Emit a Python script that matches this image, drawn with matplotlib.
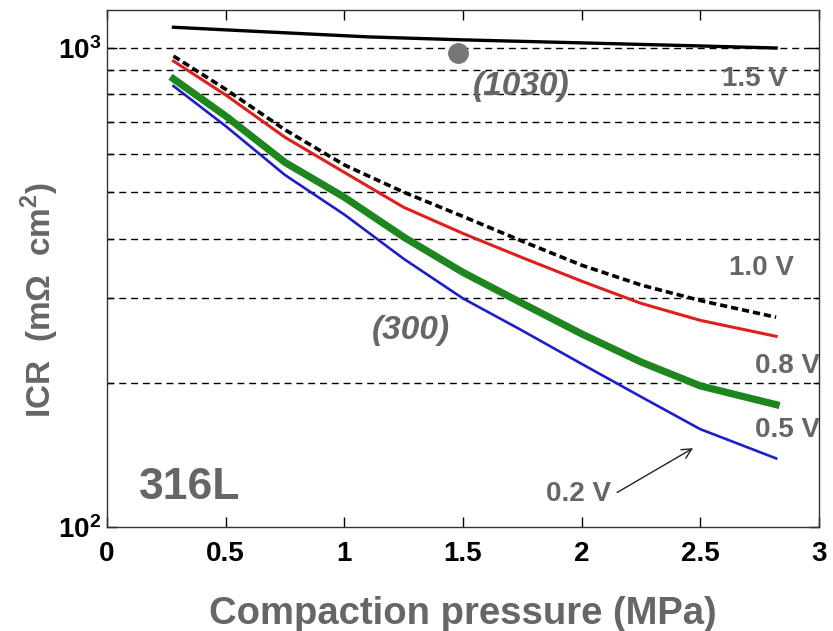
import matplotlib
matplotlib.use("Agg")
import matplotlib.pyplot as plt
from matplotlib.ticker import FixedLocator, NullFormatter

plt.rcParams['font.family'] = ['Liberation Sans', 'DejaVu Sans']
plt.rcParams['mathtext.fontset'] = 'custom'
plt.rcParams['mathtext.rm'] = 'Liberation Sans'
plt.rcParams['mathtext.bf'] = 'Liberation Sans:bold'

# data
pressure = [0.28, 0.5, 0.75, 1.0, 1.25, 1.5, 1.75, 2.0, 2.25, 2.5, 2.82]
icr_10v = [962, 820, 675, 570, 500, 445, 395, 352, 320, 297, 274]   # black dashed
icr_08v = [939, 798, 651, 550, 465, 410, 365, 326, 293, 270, 250]   # red
icr_05v = [862, 721, 577, 488, 403, 340, 293, 253, 221, 197, 180]   # green
icr_02v = [833, 687, 543, 449, 363, 300, 257, 219, 187, 160, 139]   # blue

pressure_15v = [0.28, 0.6, 1.1, 1.5, 2.0, 2.5, 2.82]
icr_15v = [1105, 1085, 1055, 1040, 1025, 1010, 1000]

dot_x, dot_y = 1.48, 975
grid_vals = [200, 300, 400, 500, 600, 700, 800, 900, 1000]
xticks = [0, 0.5, 1, 1.5, 2, 2.5, 3]
xticklabels = ['0', '0.5', '1', '1.5', '2', '2.5', '3']
yticks = [100, 1000]
yticklabels = ['$\\mathbf{10^{2}}$', '$\\mathbf{10^{3}}$']

GRAY = '#666666'

fig = plt.figure(figsize=(8.33, 6.31), dpi=100)
ax = fig.add_axes([0.1285, 0.165, 0.8545, 0.819])
ax.set_yscale('log')
ax.set_xlim(0, 3)
ax.set_ylim(100, 1200)

for g in grid_vals:
    ax.axhline(g, color='black', lw=1.0, ls=(0, (5, 3.5)), zorder=1)

ax.plot(pressure_15v, icr_15v, color='black', lw=2.4, zorder=3)
ax.plot(pressure, icr_10v, color='black', lw=2.6, ls=(0, (2.0, 1.1)), zorder=3)
ax.plot(pressure, icr_08v, color='#e01e1e', lw=2.2, zorder=3)
ax.plot(pressure, icr_05v, color='#1e861e', lw=5.2, zorder=2)
ax.plot(pressure, icr_02v, color='#1e1ec8', lw=1.9, zorder=3)

ax.plot([dot_x], [dot_y], 'o', color='#777777', ms=14, zorder=4)

# annotations
ax.text(1.745, 832, '(1030)', style='italic', fontweight='bold', color=GRAY,
        fontsize=24, ha='center', va='center')
ax.text(1.28, 257, '(300)', style='italic', fontweight='bold', color=GRAY,
        fontsize=24, ha='center', va='center')
ax.text(0.35, 121, '316L', fontweight='bold', color=GRAY, fontsize=32,
        ha='center', va='center')
ax.text(2.73, 861, '1.5 V', fontweight='bold', color=GRAY, fontsize=20,
        ha='center', va='center')
ax.text(2.76, 347, '1.0 V', fontweight='bold', color=GRAY, fontsize=20,
        ha='center', va='center')
ax.text(2.87, 217, '0.8 V', fontweight='bold', color=GRAY, fontsize=20,
        ha='center', va='center', clip_on=True)
ax.text(2.87, 159, '0.5 V', fontweight='bold', color=GRAY, fontsize=20,
        ha='center', va='center', clip_on=True)
ax.annotate('', xy=(2.47, 146), xytext=(2.15, 118),
            arrowprops=dict(arrowstyle='->,head_length=0.7,head_width=0.35',
                            color='#222222', lw=1.0, shrinkA=0, shrinkB=0))
ax.text(1.985, 117, '0.2 V', fontweight='bold', color=GRAY, fontsize=20,
        ha='center', va='center')

ax.set_xticks(xticks)
ax.set_xticklabels(xticklabels)
ax.yaxis.set_major_locator(FixedLocator(yticks))
ax.set_yticklabels(yticklabels)
ax.yaxis.set_minor_locator(FixedLocator(grid_vals[:-1]))
ax.yaxis.set_minor_formatter(NullFormatter())
ax.tick_params(axis='both', which='major', direction='in', length=7, width=1,
               top=True, right=True, labelsize=20)
ax.tick_params(axis='x', pad=10)
ax.tick_params(axis='y', pad=4)
ax.tick_params(axis='y', which='minor', direction='in', length=4, width=1, right=True)
for lab in ax.get_xticklabels():
    lab.set_fontweight('bold')
for s in ax.spines.values():
    s.set_linewidth(1.0)
    s.set_color('#333333')

ax.set_xlabel('Compaction pressure (MPa)', fontsize=27.5, fontweight='bold',
              color=GRAY, va='center')
ax.xaxis.set_label_coords(0.5, -0.168)
ax.set_ylabel('ICR  (m\u03a9  cm$^{\\mathbf{2}}$)', fontsize=24, fontweight='bold',
              color=GRAY, va='center')
ax.yaxis.set_label_coords(-0.094, 0.44)

fig.savefig('out.png', dpi=100)
